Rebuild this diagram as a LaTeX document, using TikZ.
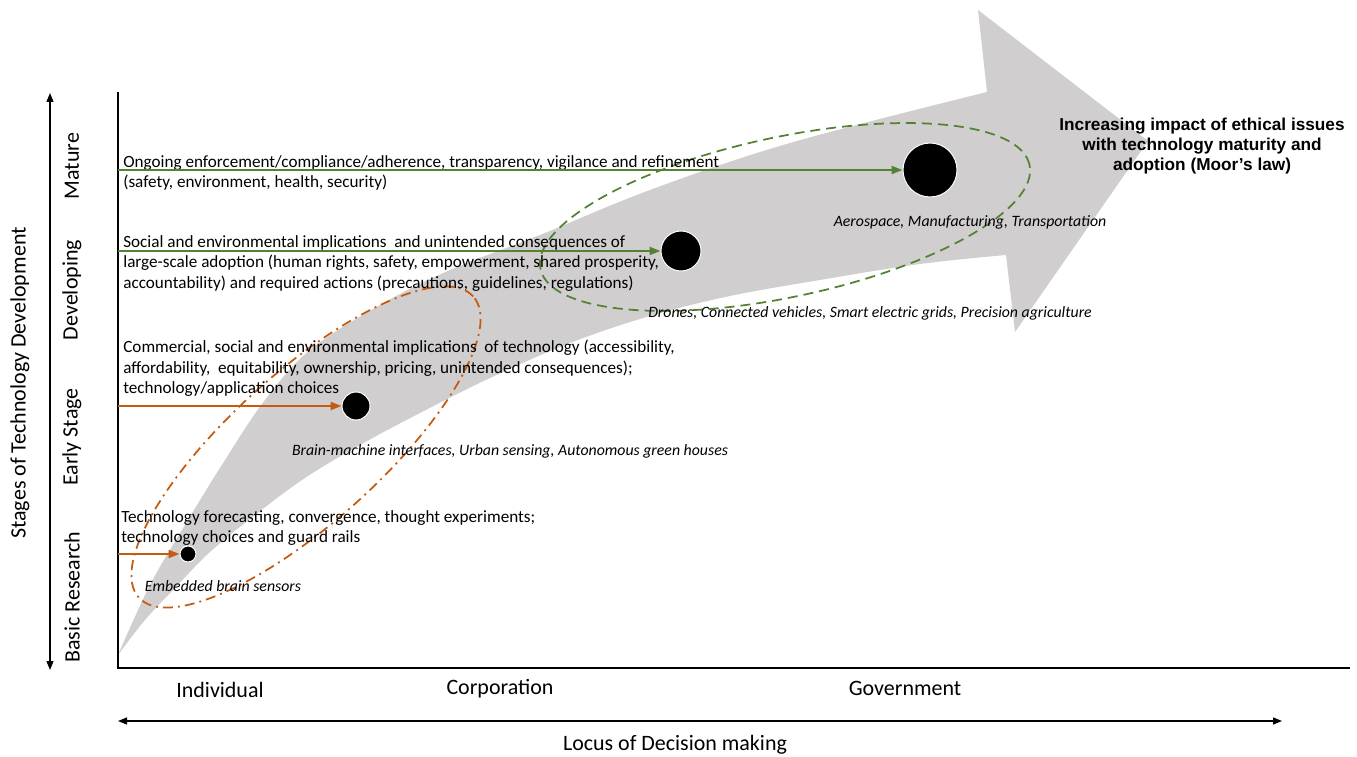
\documentclass[tikz,border=0pt]{standalone}
\usepackage{fontspec}
\setmainfont{Carlito}
\newfontfamily\headfont{Liberation Sans}
\usetikzlibrary{arrows.meta}

\definecolor{leafgreen}{RGB}{84,130,53}
\definecolor{rust}{RGB}{197,90,17}
\definecolor{shaftgray}{RGB}{208,206,206}

\tikzset{
  axisline/.style={line width=0.05cm},
  twoway/.style={line width=0.025cm, {Triangle[length=0.18cm,width=0.14cm]}-{Triangle[length=0.18cm,width=0.14cm]}},
  greenarrow/.style={draw=leafgreen, line width=0.04cm, -{Triangle[length=0.22cm,width=0.16cm]}},
  rustarrow/.style={draw=rust, line width=0.04cm, -{Triangle[length=0.22cm,width=0.16cm]}},
  dot/.style={circle, fill=black, draw=white, line width=0.02cm, inner sep=0pt},
  body/.style={anchor=north west, inner sep=0pt, align=left, font=\fontsize{9.75}{11.7}\selectfont},
  usecase/.style={inner sep=0pt, font=\fontsize{9}{10.5}\selectfont\itshape},
  stage/.style={rotate=90, inner sep=0pt, font=\fontsize{12.5}{15}\selectfont},
  locus/.style={inner sep=0pt, font=\fontsize{12.5}{15}\selectfont}
}

\begin{document}
\begin{tikzpicture}
\useasboundingbox (0,0) rectangle (27.14,15.12);

% Drawing the curved grey arrow
\fill [shaftgray] plot [smooth, tension=0.6] coordinates {(2.36,2.02) (3.00,3.42) (3.70,4.62) (4.50,5.92) (5.30,7.12) (6.20,8.12) (7.60,9.02) (9.00,9.72) (10.80,10.42) (13.00,11.32) (15.80,12.26) (19.74,13.28)}
  -- (19.56,14.92) -- (22.96,12.30) -- (20.30,8.48) -- (20.12,10.02)
  -- plot [smooth, tension=0.6] coordinates {(20.12,10.02) (18.40,9.84) (16.40,9.52) (14.60,9.20) (13.00,8.80) (11.40,8.26) (9.80,7.56) (8.40,6.86) (7.20,6.22) (6.10,5.56) (5.10,4.82) (4.20,4.08) (3.50,3.36) (2.90,2.72) (2.36,2.02)}
  -- cycle;

% Drawing the grouping ellipses
\draw [leafgreen, line width=0.035cm, dash pattern=on 0.2cm off 0.12cm, rotate around={12:(15.70,10.78)}] (15.70,10.78) ellipse [x radius=5.0, y radius=1.6];
\draw [rust, line width=0.035cm, dash pattern=on 0.2cm off 0.1cm on 0.04cm off 0.1cm, rotate around={42:(6.12,6.18)}] (6.12,6.18) ellipse [x radius=4.5, y radius=1.5];

% Drawing the axes
\draw [axisline] (2.36,13.28) -- (2.36,1.76) -- (27.0,1.76);
\draw [twoway] (1.0,13.26) -- (1.0,1.72);
\draw [twoway] (2.36,0.70) -- (25.64,0.70);

% Marking the stages
\node [stage] (basic) at (1.44,3.18) {Basic Research};
\node [stage] (early) at (1.44,6.38) {Early Stage};
\node [stage] (developing) at (1.44,9.32) {Developing};
\node [stage] (mature) at (1.44,11.80) {Mature};
\node [stage] (ylabel) at (0.40,7.46) {Stages of Technology Development};

% Marking the deciders
\node [locus] (individual) at (4.40,1.32) {Individual};
\node [locus] (corporation) at (10.00,1.34) {Corporation};
\node [locus] (government) at (18.10,1.36) {Government};
\node [locus] (xlabel) at (13.50,0.22) {Locus of Decision making};

% Marking the technologies by dots
\node [dot, minimum size=0.32cm] (sensors) at (3.76,4.04) {};
\node [dot, minimum size=0.56cm] (interfaces) at (7.12,7.00) {};
\node [dot, minimum size=0.80cm] (drones) at (13.62,10.10) {};
\node [dot, minimum size=1.08cm] (aerospace) at (18.60,11.72) {};

\node [usecase] (sensorslabel) at (4.46,3.40) {Embedded brain sensors};
\node [usecase] (interfaceslabel) at (10.20,6.10) {Brain-machine interfaces, Urban sensing, Autonomous green houses};
\node [usecase] (droneslabel) at (17.40,8.86) {Drones, Connected vehicles, Smart electric grids, Precision agriculture};
\node [usecase] (aerospacelabel) at (19.40,10.68) {Aerospace, Manufacturing, Transportation};

% Drawing the issues per stage
\node [body] (mtext) at (2.46,12.02) {Ongoing enforcement/compliance/adherence, transparency, vigilance and refinement\\(safety, environment, health, security)};
\node [body] (dtext) at (2.46,10.42) {Social and environmental implications\ \ and unintended consequences of\\large-scale adoption (human rights, safety, empowerment, shared prosperity,\\accountability) and required actions (precautions, guidelines, regulations)};
\node [body] (etext) at (2.46,8.32) {Commercial, social and environmental implications\ \ of technology (accessibility,\\affordability,\ \ equitability, ownership, pricing, unintended consequences);\\technology/application choices};
\node [body] (btext) at (2.42,4.92) {Technology forecasting, convergence, thought experiments;\\technology choices and guard rails};

\coordinate (m0) at (2.36,11.72);
\coordinate (d0) at (2.36,10.10);
\coordinate (e0) at (2.36,7.00);
\coordinate (b0) at (2.36,4.04);
\draw [greenarrow] (m0) -- (aerospace.west);
\draw [greenarrow] (d0) -- (drones.west);
\draw [rustarrow] (e0) -- (interfaces.west);
\draw [rustarrow] (b0) -- (sensors.west);

% Marking the trend
\node [inner sep=0pt, align=center, font=\headfont\bfseries\fontsize{9.8}{11.2}\selectfont] (trend) at (24.04,12.20) {Increasing impact of ethical issues\\with technology maturity and\\adoption (Moor’s law)};
\end{tikzpicture}
\end{document}
